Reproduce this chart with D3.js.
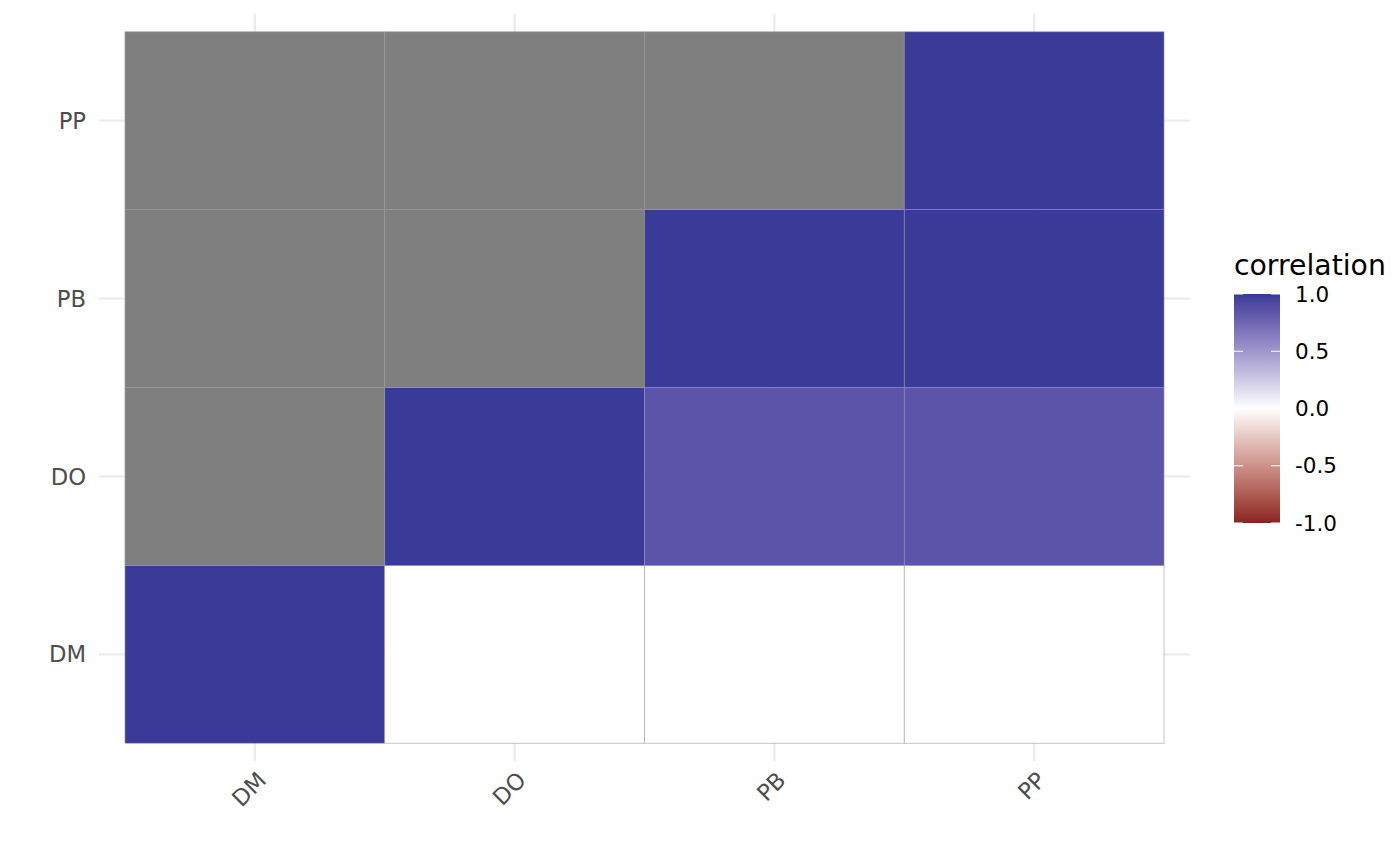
<!DOCTYPE html>
<html><head><meta charset="utf-8">
<script src="https://cdn.jsdelivr.net/npm/d3@7"></script>
<style>body{margin:0;background:#fff;}svg{display:block;font-family:"DejaVu Sans",sans-serif;}</style>
</head><body><div id="chart"></div>
<script>
const xCategories = ["DM","DO","PB","PP"];
const yCategories = ["DM","DO","PB","PP"];
// values by row (y) then column (x); null = NA (grey)
const rowDM = [1.0, 0.0, 0.0, 0.0];
const rowDO = [null, 1.0, 0.85, 0.85];
const rowPB = [null, null, 1.0, 1.0];
const rowPP = [null, null, null, 1.0];
const legendTicks = [1.0, 0.5, 0.0, -0.5, -1.0];
const legendTitle = "correlation";

const rows = {DM: rowDM, DO: rowDO, PB: rowPB, PP: rowPP};
const cells = [];
yCategories.forEach(y => xCategories.forEach((x, i) => cells.push({x, y, v: rows[y][i]})));

const W = 1400, H = 866;
const svg = d3.select("#chart").append("svg").attr("width", W).attr("height", H);

const panel = {l: 99, r: 1190, t: 14, b: 761};
// continuous index scale with ggplot-style expansion [0.4, 4.6]
const xi = d3.scaleLinear().domain([0.4, 4.6]).range([panel.l, panel.r]);
const yi = d3.scaleLinear().domain([0.4, 4.6]).range([panel.b, panel.t]);
const xPos = c => xi(xCategories.indexOf(c) + 1);
const yPos = c => yi(yCategories.indexOf(c) + 1);

const low = "#8B2323", mid = "#ffffff", high = "#3A3A98";
const color = d3.scaleLinear().domain([-1, 0, 1]).range([low, mid, high]).interpolate(d3.interpolateLab);

// grid lines
const grid = svg.append("g").attr("stroke", "#EBEBEB").attr("stroke-width", 2.2);
xCategories.forEach(c => grid.append("line").attr("x1", xPos(c)).attr("x2", xPos(c)).attr("y1", panel.t).attr("y2", panel.b));
yCategories.forEach(c => grid.append("line").attr("y1", yPos(c)).attr("y2", yPos(c)).attr("x1", panel.l).attr("x2", panel.r));

// tiles
svg.append("g").selectAll("rect").data(cells).join("rect")
  .attr("x", d => xi(xCategories.indexOf(d.x) + 0.5))
  .attr("y", d => yi(yCategories.indexOf(d.y) + 1.5))
  .attr("width", d => xi(1.5) - xi(0.5))
  .attr("height", d => yi(0.5) - yi(1.5))
  .attr("fill", d => d.v == null ? "#7F7F7F" : color(d.v))
  .attr("stroke", "#999999").attr("stroke-width", 0.7).attr("stroke-opacity", 0.8);

// axes labels
const axisCol = "#4D4D4D";
yCategories.forEach(c => svg.append("text").attr("x", 86).attr("y", yPos(c)).attr("dy", "0.36em")
  .attr("text-anchor", "end").attr("fill", axisCol).attr("font-size", 22.7).text(c));
xCategories.forEach(c => {
  const x = xPos(c) + 1, y = 770;
  svg.append("text").attr("transform", `translate(${x},${y}) rotate(-45)`)
    .attr("text-anchor", "end").attr("dy", "0.73em").attr("fill", axisCol).attr("font-size", 22.7).text(c);
});

// legend
const lg = {x: 1234, w: 46, top: 294, bot: 523};
const ly = d3.scaleLinear().domain([-1, 1]).range([lg.bot, lg.top]);
const defs = svg.append("defs");
const grad = defs.append("linearGradient").attr("id", "lgGrad").attr("x1", 0).attr("x2", 0).attr("y1", 1).attr("y2", 0);
d3.range(0, 1.0001, 0.05).forEach(t => grad.append("stop").attr("offset", t).attr("stop-color", color(-1 + 2 * t)));
svg.append("rect").attr("x", lg.x).attr("y", lg.top).attr("width", lg.w).attr("height", lg.bot - lg.top).attr("fill", "url(#lgGrad)");
legendTicks.forEach(v => {
  const y = ly(v);
  svg.append("line").attr("x1", lg.x).attr("x2", lg.x + 9).attr("y1", y).attr("y2", y).attr("stroke", "#fff").attr("stroke-width", 1);
  svg.append("line").attr("x1", lg.x + lg.w - 9).attr("x2", lg.x + lg.w).attr("y1", y).attr("y2", y).attr("stroke", "#fff").attr("stroke-width", 1);
  svg.append("text").attr("x", 1295).attr("y", y).attr("dy", "0.36em").attr("font-size", 21.5).attr("fill", "#000").text(v.toFixed(1));
});
svg.append("text").attr("x", lg.x).attr("y", 275).attr("font-size", 28.3).attr("fill", "#000").text(legendTitle);
</script></body></html>
